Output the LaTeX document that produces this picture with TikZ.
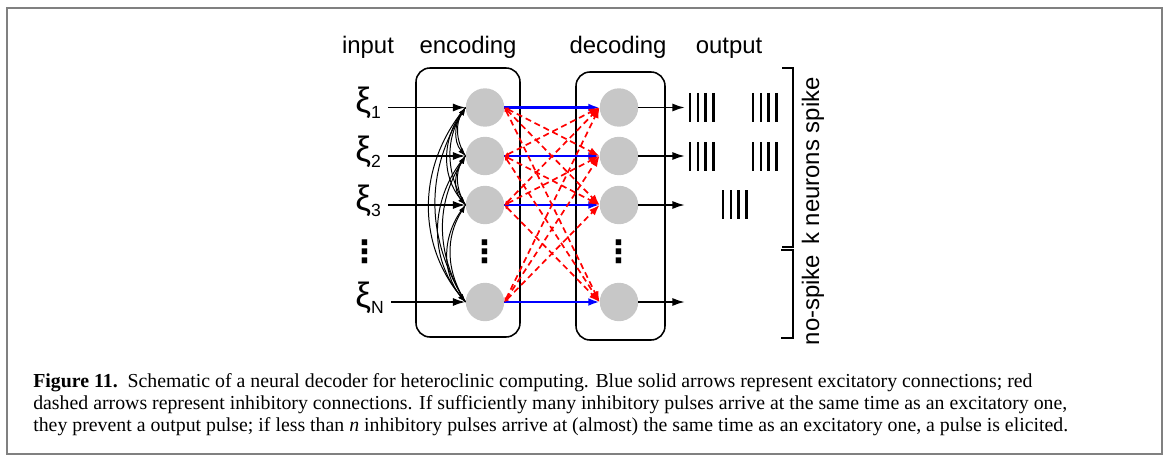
\documentclass[tikz,border=0pt]{standalone}
\usepackage{fontspec}
\setmainfont{Liberation Serif}
\setsansfont{Liberation Sans}
\newfontfamily\symfont{DejaVu Sans}
\usepackage{tikz}
\usetikzlibrary{positioning,arrows.meta,calc}
\newcommand{\xisub}[1]{{\fontsize{25}{26}\selectfont ξ}\raisebox{-4.6pt}{\fontsize{12.5}{14}\selectfont #1}}

\begin{document}
\begin{tikzpicture}[
        font=\sffamily,
        neuron/.style={circle, fill=black!22, minimum size=9.6mm, inner sep=0pt},
        layer/.style={draw, line width=1.1pt, rounded corners=3.5mm, inner sep=0pt},
        head/.style={font=\sffamily\fontsize{17}{20}\selectfont, inner sep=0pt},
        xi/.style={inner xsep=1.8mm, inner ysep=0pt},
        dots/.style={font=\symfont\bfseries\fontsize{22}{22}\selectfont, inner sep=0pt},
        feed/.style={-{Latex[length=9pt, width=5.8pt]}, line width=1.4pt},
        fan/.style={-{Latex[length=5.5pt, width=4pt]}, line width=0.7pt},
        exc/.style={-{Latex[length=8pt, width=5.6pt]}, blue, line width=1.8pt},
        inh/.style={{Latex[length=3pt, width=3pt]}-{Latex[length=7.5pt, width=5.6pt]}, red,
                    line width=1.2pt, dash pattern=on 4.3pt off 2.8pt},
        spike/.style={line width=1.6pt},
        brace/.style={line width=1.3pt},
        caption/.style={font=\rmfamily\fontsize{14.1}{15.6}\selectfont, align=left, inner sep=0pt}
    ]
    \useasboundingbox (0,0) rectangle (29.125,-11.375);
    \draw[black!50, line width=1.4pt] (0.175,-0.2) rectangle (29.05,-11.35);

    % Column headings
    \node[head, anchor=base] (hin)  at (9.2,-1.35)    {input};
    \node[head, anchor=base] (henc) at (11.7,-1.35)   {encoding};
    \node[head, anchor=base] (hdec) at (15.45,-1.35)  {decoding};
    \node[head, anchor=base] (hout) at (18.225,-1.35) {output};

    % Layer boxes
    \node[layer, minimum width=2.6cm, minimum height=6.725cm]  (encbox) at (11.7,-5.0625) {};
    \node[layer, minimum width=2.225cm, minimum height=6.7cm] (decbox) at (15.5125,-5.15) {};

    % Neurons, inputs and outputs
    \foreach \n/\y in {1/-2.6875, 2/-3.9, 3/-5.125, N/-7.55} {
        \node[neuron] (enc\n) at (12.125,\y) {};
        \node[neuron] (dec\n) at (15.475,\y) {};
        \node[xi, anchor=base west] (xi\n) at (8.7,{\y-0.125}) {\xisub{\n}};
        \coordinate (out\n) at (17.125,\y);
        \draw[feed] (xi\n.east |- enc\n.west) -- (enc\n.west);
        \draw[exc] (enc\n.east) -- (dec\n.west);
        \draw[feed] (dec\n.east) -- (out\n);
    }
    \node[dots] (dotsin)  at (9.125,-6.3)  {⋮};
    \node[dots] (dotsenc) at (12.125,-6.3) {⋮};
    \node[dots] (dotsdec) at (15.475,-6.3) {⋮};

    % Encoding fan-out
    \foreach \a/\b in {1/2, 1/3, 1/N, 2/3, 2/N, 3/N} {
        \draw[fan] (enc\a.west) to[bend right=40] (enc\b.west);
        \draw[fan] (enc\b.west) to[bend left=32] (enc\a.west);
    }

    % Inhibitory cross connections
    \foreach \a/\b in {1/2, 1/3, 1/N, 2/1, 2/3, 2/N, 3/1, 3/2, 3/N, N/1, N/2, N/3}
        \draw[inh] (enc\a.east) -- (dec\b.west);

    % Output spike trains
    \foreach \gx/\gy in {17.25/-2.325, 18.825/-2.325, 17.25/-3.55, 18.825/-3.55, 18.075/-4.75}
        \foreach \k in {0,...,3}
            \draw[spike] ({\gx+\k*0.195},\gy) -- ++(0,-0.72);

    % Brackets
    \draw[brace] (19.55,-1.7) -- (19.825,-1.7) -- (19.825,-6.175) -- (19.55,-6.175);
    \draw[brace] (19.525,-6.25) -- (19.825,-6.25) -- (19.825,-8.45) -- (19.525,-8.45);
    \node[head, rotate=90] (kspike)  at (20.325,-4.025) {k neurons spike};
    \node[head, rotate=90] (nospike) at (20.325,-7.5)   {no-spike};

    % Caption
    \node[caption, anchor=north west] (cap) at (0.825,-9.33)
        {\textbf{Figure 11.}\enspace Schematic of a neural decoder for heteroclinic computing. Blue solid arrows represent excitatory connections; red\\
         dashed arrows represent inhibitory connections. If sufficiently many inhibitory pulses arrive at the same time as an excitatory one,\\
         they prevent a output pulse; if less than \textit{n} inhibitory pulses arrive at (almost) the same time as an excitatory one, a pulse is elicited.};
\end{tikzpicture}
\end{document}
